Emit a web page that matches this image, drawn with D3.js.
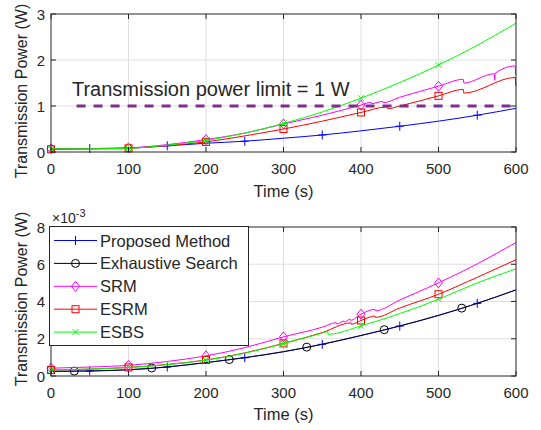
<!DOCTYPE html>
<html>
<head>
<meta charset="utf-8">
<script src="https://cdn.jsdelivr.net/npm/d3@7"></script>
<style>
  body { margin: 0; background: #fff; }
  text { font-family: "Liberation Sans", Arial, sans-serif; fill: #262626; }
</style>
</head>
<body>
<svg id="chart" width="541" height="430"></svg>
<script>
// series names + colours
const seriesNames = ["Proposed Method", "Exhaustive Search", "SRM", "ESRM", "ESBS"];
const seriesColors = ["#0000ff", "#000000", "#ff00ff", "#ff0000", "#00ff00"];

const xTicks = [0, 100, 200, 300, 400, 500, 600];
const topYTicks = [0, 1, 2, 3];
const botYTicks = [0, 2, 4, 6, 8];

// top panel, power in W  [time, power]
const proposedTop = [[0,0.07],[50,0.075],[100,0.085],[150,0.135],[200,0.19],[250,0.235],[300,0.3],[350,0.37],[400,0.46],[450,0.56],[500,0.67],[550,0.8],[600,0.95]];
const srmTop = [[0,0.07],[50,0.075],[100,0.09],[150,0.16],[200,0.27],[250,0.41],[300,0.61],[350,0.8],[400,1.02],[413,1.08],[413.5,1.05],[428,1.1],[428.5,1.07],[450,1.19],[500,1.43],[532,1.58],[532.5,1.5],[572,1.7],[572.5,1.56],[573,1.71],[599,1.87],[599.5,1.68]];
const esrmTop = [[0,0.06],[50,0.065],[100,0.08],[150,0.14],[200,0.22],[250,0.35],[300,0.5],[350,0.67],[400,0.86],[434,0.98],[434.5,0.94],[450,1.0],[500,1.22],[532,1.36],[532.5,1.28],[599,1.62],[599.5,1.44]];
const esbsTop = [[0,0.07],[50,0.07],[100,0.08],[150,0.15],[200,0.25],[250,0.41],[300,0.62],[350,0.87],[400,1.17],[450,1.51],[500,1.89],[550,2.32],[600,2.8]];

// bottom panel, power in 1e-3 W
const proposedBot = [[0,0.25],[50,0.27],[100,0.33],[150,0.48],[200,0.72],[250,0.98],[300,1.3],[350,1.7],[400,2.17],[450,2.68],[500,3.25],[550,3.9],[600,4.62]];
const exhaustiveBot = [[0,0.25],[50,0.27],[100,0.34],[150,0.49],[200,0.72],[250,0.99],[300,1.31],[350,1.71],[400,2.18],[450,2.69],[500,3.26],[550,3.9],[600,4.63]];
const srmBot = [[0,0.42],[50,0.48],[100,0.57],[150,0.78],[200,1.08],[250,1.52],[300,2.1],[350,2.62],[368,2.86],[368.5,2.79],[378,2.95],[378.5,2.9],[386,3.05],[386.5,2.99],[400,3.32],[418,3.58],[418.5,3.5],[450,4.08],[500,5.0],[550,6.02],[600,7.17]];
const esrmBot = [[0,0.32],[50,0.37],[100,0.46],[150,0.62],[200,0.86],[250,1.24],[300,1.75],[350,2.33],[387,2.85],[387.5,2.78],[400,2.98],[418,3.22],[418.5,3.15],[450,3.65],[500,4.39],[550,5.3],[600,6.24]];
const esbsBot = [[0,0.32],[50,0.37],[100,0.46],[150,0.61],[200,0.85],[250,1.22],[300,1.74],[350,2.3],[357,2.38],[357.5,2.24],[400,2.69],[450,3.35],[500,4.12],[550,5.0],[600,5.75]];

// marker times
const plusTimes = [50, 150, 250, 350, 450, 550];
const circleTimes = [30, 130, 230, 330, 430, 530];
const markTimes = [0, 100, 200, 300, 400, 500];

const limitTimes = [33, 600];
const limitValue = 1;
const limitText = "Transmission power limit = 1 W";
const limitTextPos = [27, 1.21];

const svg = d3.select("#chart");
const left = 51, right = 516;

const x = d3.scaleLinear().domain([0, 600]).range([left, right]);
const yTop = d3.scaleLinear().domain([0, 3]).range([152, 14]);
const yBot = d3.scaleLinear().domain([0, 8]).range([376, 227]);

// interpolate series value at time t
function valueAt(s, t) {
  for (let i = 1; i < s.length; i++) {
    if (s[i][0] >= t) {
      const a = s[i-1], b = s[i];
      return a[1] + (b[1] - a[1]) * (t - a[0]) / (b[0] - a[0]);
    }
  }
  return s[s.length-1][1];
}

function drawMarker(g, type, cx, cy, color) {
  if (type === "plus") {
    g.append("path").attr("d", `M${cx-4},${cy}H${cx+4}M${cx},${cy-4.5}V${cy+4.5}`)
      .attr("stroke", color).attr("stroke-width", 1).attr("fill", "none");
  } else if (type === "circle") {
    g.append("circle").attr("cx", cx).attr("cy", cy).attr("r", 4)
      .attr("stroke", color).attr("fill", "none");
  } else if (type === "diamond") {
    g.append("path").attr("d", `M${cx},${cy-5}L${cx+4},${cy}L${cx},${cy+5}L${cx-4},${cy}Z`)
      .attr("stroke", color).attr("fill", "none");
  } else if (type === "square") {
    g.append("rect").attr("x", cx-3.5).attr("y", cy-3.5).attr("width", 7).attr("height", 7)
      .attr("stroke", color).attr("fill", "none");
  } else if (type === "x") {
    g.append("path").attr("d", `M${cx-3},${cy-3}L${cx+3},${cy+3}M${cx-3},${cy+3}L${cx+3},${cy-3}`)
      .attr("stroke", color).attr("fill", "none");
  }
}

function drawGrid(y, yTicks, yTop0, yBot0) {
  const g = svg.append("g");
  g.selectAll(".gx").data(xTicks.slice(1, -1)).enter().append("line")
    .attr("x1", d => x(d)).attr("x2", d => x(d)).attr("y1", yTop0).attr("y2", yBot0)
    .attr("stroke", "#dfdfdf");
  g.selectAll(".gy").data(yTicks.slice(1, -1)).enter().append("line")
    .attr("x1", left).attr("x2", right).attr("y1", d => y(d)).attr("y2", d => y(d))
    .attr("stroke", "#dfdfdf");
}

function drawFrame(y, yTicks, yTop0, yBot0, xLabelY, yLabelMid) {
  const g = svg.append("g");
  g.append("rect").attr("x", left).attr("y", yTop0).attr("width", right - left).attr("height", yBot0 - yTop0)
    .attr("fill", "none").attr("stroke", "#262626");
  // ticks inside, all sides
  xTicks.forEach(t => {
    g.append("line").attr("x1", x(t)).attr("x2", x(t)).attr("y1", yBot0).attr("y2", yBot0 - 5).attr("stroke", "#262626");
    g.append("line").attr("x1", x(t)).attr("x2", x(t)).attr("y1", yTop0).attr("y2", yTop0 + 5).attr("stroke", "#262626");
    g.append("text").attr("x", x(t)).attr("y", yBot0 + 22).attr("text-anchor", "middle")
      .style("font-size", "15px").text(t);
  });
  yTicks.forEach(t => {
    g.append("line").attr("x1", left).attr("x2", left + 5).attr("y1", y(t)).attr("y2", y(t)).attr("stroke", "#262626");
    g.append("line").attr("x1", right).attr("x2", right - 5).attr("y1", y(t)).attr("y2", y(t)).attr("stroke", "#262626");
    g.append("text").attr("x", left - 6).attr("y", y(t) + 5.5).attr("text-anchor", "end")
      .style("font-size", "15px").text(t);
  });
  g.append("text").attr("x", (left + right) / 2).attr("y", xLabelY).attr("text-anchor", "middle")
    .style("font-size", "16.5px").text("Time (s)");
  g.append("text").attr("transform", `translate(27,${yLabelMid}) rotate(-90)`)
    .attr("text-anchor", "middle").style("font-size", "16px").text("Transmission Power (W)");
}

function drawSeries(y, list) {
  const g = svg.append("g");
  const line = d3.line().x(d => x(d[0])).y(d => y(d[1])).curve(d3.curveMonotoneX);
  list.forEach(s => {
    g.append("path").datum(s.data).attr("d", line)
      .attr("fill", "none").attr("stroke", s.color).attr("stroke-width", 1)
      .attr("stroke-opacity", s.opacity || 1);
    s.times.forEach(t => drawMarker(g, s.marker, x(t), y(valueAt(s.data, t)), s.color));
  });
}

// ---- top panel
drawGrid(yTop, topYTicks, 14, 152);
svg.append("text").attr("x", x(limitTextPos[0])).attr("y", yTop(limitTextPos[1]))
  .style("font-size", "20px").text(limitText);
drawSeries(yTop, [
  {data: proposedTop, color: seriesColors[0], marker: "plus", times: plusTimes},
  {data: srmTop, color: seriesColors[2], marker: "diamond", times: markTimes},
  {data: esrmTop, color: seriesColors[3], marker: "square", times: markTimes},
  {data: esbsTop, color: seriesColors[4], marker: "x", times: markTimes}
]);
svg.append("line")
  .attr("x1", x(limitTimes[0])).attr("x2", x(limitTimes[1]))
  .attr("y1", yTop(limitValue)).attr("y2", yTop(limitValue))
  .attr("stroke", "#7e2f8e").attr("stroke-width", 3).attr("stroke-dasharray", "9,8");
drawFrame(yTop, topYTicks, 14, 152, 197, 91);

// ---- bottom panel
drawGrid(yBot, botYTicks, 227, 376);
drawSeries(yBot, [
  {data: proposedBot, color: seriesColors[0], marker: "plus", times: plusTimes},
  {data: exhaustiveBot, color: seriesColors[1], marker: "circle", times: circleTimes, opacity: 0.8},
  {data: srmBot, color: seriesColors[2], marker: "diamond", times: markTimes},
  {data: esrmBot, color: seriesColors[3], marker: "square", times: markTimes},
  {data: esbsBot, color: seriesColors[4], marker: "x", times: markTimes}
]);
drawFrame(yBot, botYTicks, 227, 376, 420, 299);

// exponent label
const expo = svg.append("text").attr("x", 52).attr("y", 223).style("font-size", "14px");
expo.append("tspan").text("\u00d710");
expo.append("tspan").attr("dy", -6).style("font-size", "11px").text("-3");

// legend
const markerTypes = ["plus", "circle", "diamond", "square", "x"];
const leg = svg.append("g");
leg.append("rect").attr("x", 49.5).attr("y", 226.5).attr("width", 199).attr("height", 119)
  .attr("fill", "#fff").attr("stroke", "#262626");
seriesNames.forEach((name, i) => {
  const yy = 240.5 + i * 22.9;
  leg.append("line").attr("x1", 54).attr("x2", 97).attr("y1", yy).attr("y2", yy)
    .attr("stroke", seriesColors[i]);
  drawMarker(leg, markerTypes[i], 75.5, yy, seriesColors[i]);
  leg.append("text").attr("x", 100).attr("y", yy + 6).style("font-size", "16.5px").text(name);
});
</script>
</body>
</html>
